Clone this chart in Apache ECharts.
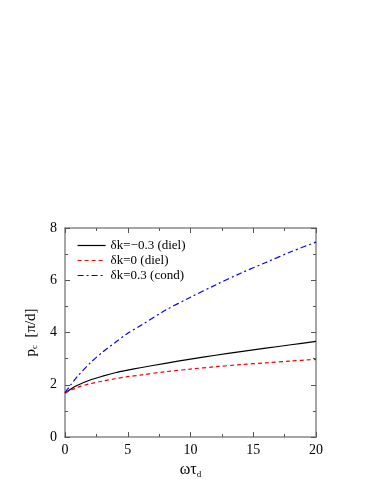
<!DOCTYPE html>
<html><head><meta charset="utf-8">
<script src="https://cdn.jsdelivr.net/npm/echarts@6/dist/echarts.min.js"></script>
<style>html,body{margin:0;padding:0;background:#fff}#c{width:382px;height:494px}</style>
</head><body><div id="c"></div>
<script>
const xs = [0, 0.5, 1, 2, 3, 4, 5, 6, 8, 10, 12, 14, 16, 18, 20];
const blackVals = [1.68, 1.85, 1.98, 2.18, 2.33, 2.46, 2.56, 2.65, 2.82, 2.98, 3.13, 3.27, 3.40, 3.53, 3.66];
const redVals = [1.68, 1.80, 1.90, 2.04, 2.14, 2.23, 2.31, 2.37, 2.50, 2.60, 2.69, 2.77, 2.84, 2.91, 2.97];
const blueVals = [1.70, 2.02, 2.32, 2.83, 3.25, 3.62, 3.97, 4.26, 4.85, 5.35, 5.82, 6.27, 6.68, 7.09, 7.46];
const seriesNames = ['δk=−0.3 (diel)', 'δk=0 (diel)', 'δk=0.3 (cond)'];
const xTicks = [0, 5, 10, 15, 20];
const yTicks = [0, 2, 4, 6, 8];

const font = 'Liberation Serif';
const axisCol = '#888';
function pairs(v){ return xs.map((x,i)=>[x, v[i]]); }
function baseAxis(){ return {
  axisLine:{show:true, onZero:false, lineStyle:{color:axisCol, width:1.5}},
  axisTick:{show:true, inside:true, length:5, lineStyle:{color:'#555', width:1}},
  minorTick:{show:true, splitNumber:2, length:3, lineStyle:{color:'#555', width:1}},
  splitLine:{show:false},
};}
const chart = echarts.init(document.getElementById('c'), null, {renderer:'canvas'});
chart.setOption({
  animation:false,
  backgroundColor:'#fff',
  grid:{left:65, right:66, top:228, bottom:57},
  legend:{
    orient:'vertical', left:72, top:234, itemWidth:28, itemHeight:12, itemGap:2,
    textStyle:{fontFamily:font, fontSize:13, color:'#000'},
    itemStyle:{opacity:0},
    lineStyle:{width:1.2},
    data: seriesNames.slice(),
  },
  xAxis:[
    Object.assign({type:'value', min:0, max:20, interval:5, position:'bottom',
      axisLabel:{fontFamily:font, fontSize:14, color:'#000', margin:6},
      name:'{a|ωτ}{s|d}', nameLocation:'middle', nameGap:23,
      nameTextStyle:{rich:{a:{fontFamily:font, fontSize:16, color:'#000'}, s:{fontFamily:font, fontSize:9, color:'#000', verticalAlign:'bottom', padding:[10,0,0,0]}}}
    }, baseAxis()),
    Object.assign({type:'value', min:0, max:20, interval:5, position:'top', axisLabel:{show:false}}, baseAxis())
  ],
  yAxis:[
    Object.assign({type:'value', min:0, max:8, interval:2, position:'left',
      axisLabel:{fontFamily:font, fontSize:14, color:'#000', margin:8},
      name:'{a|p}{s|c}{a|  [π/d]}', nameLocation:'middle', nameGap:25, nameRotate:90,
      nameTextStyle:{rich:{a:{fontFamily:font, fontSize:15, color:'#000'}, s:{fontFamily:font, fontSize:9, color:'#000', padding:[8,0,0,0]}}}
    }, baseAxis()),
    Object.assign({type:'value', min:0, max:8, interval:2, position:'right', axisLabel:{show:false}}, baseAxis())
  ],
  series:[
    {name:seriesNames[0], type:'line', data:pairs(blackVals), smooth:0.3, symbol:'none', color:'#000', lineStyle:{color:'#000', width:1.2, type:'solid'}},
    {name:seriesNames[1], type:'line', data:pairs(redVals), smooth:0.3, symbol:'none', color:'#f00', lineStyle:{color:'#f00', width:1.2, type:[4,3]}},
    {name:seriesNames[2], type:'line', data:pairs(blueVals), smooth:0.3, symbol:'none', color:'#00f', lineStyle:{color:'#00f', width:1.2, type:[6,3,2,3]}},
  ]
});
</script></body></html>
